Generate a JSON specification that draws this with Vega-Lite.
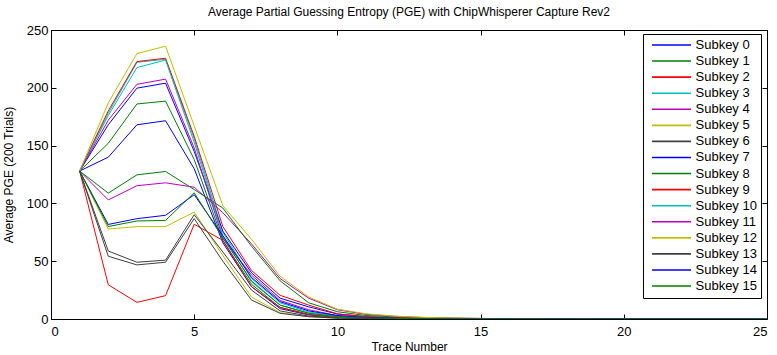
{
  "$schema": "https://vega.github.io/schema/vega-lite/v6.json",
  "autosize": {"type": "none"},
  "padding": {"left": 51, "top": 30, "right": 10, "bottom": 36},
  "width": 716,
  "height": 289,
  "background": "white",
  "title": {"text": "Average Partial Guessing Entropy (PGE) with ChipWhisperer Capture Rev2", "font": "Liberation Sans", "fontSize": 12, "fontWeight": "normal", "color": "black", "offset": 5, "anchor": "middle"},
  "config": {
    "view": {"stroke": "black", "strokeWidth": 1},
    "axis": {"labelFont": "Liberation Sans", "titleFont": "Liberation Sans", "labelFontSize": 13, "titleFontSize": 12, "titleFontWeight": "normal", "labelColor": "black", "titleColor": "black", "domainColor": "black", "tickColor": "black", "grid": false, "tickSize": -5}
  },
  "data": {"values": [
{"t":1,"s":"Subkey 0","v":128},{"t":2,"s":"Subkey 0","v":140},{"t":3,"s":"Subkey 0","v":168},{"t":4,"s":"Subkey 0","v":171.5},{"t":5,"s":"Subkey 0","v":130},{"t":6,"s":"Subkey 0","v":66},{"t":7,"s":"Subkey 0","v":28},{"t":8,"s":"Subkey 0","v":9},{"t":9,"s":"Subkey 0","v":3.5},{"t":10,"s":"Subkey 0","v":1.5},{"t":11,"s":"Subkey 0","v":0.7},{"t":12,"s":"Subkey 0","v":0.35},{"t":13,"s":"Subkey 0","v":0.2},{"t":14,"s":"Subkey 0","v":0.1},{"t":15,"s":"Subkey 0","v":0.06},{"t":16,"s":"Subkey 0","v":0.04},{"t":17,"s":"Subkey 0","v":0.02},{"t":18,"s":"Subkey 0","v":0.01},{"t":19,"s":"Subkey 0","v":0},{"t":20,"s":"Subkey 0","v":0},{"t":21,"s":"Subkey 0","v":0},{"t":22,"s":"Subkey 0","v":0},{"t":23,"s":"Subkey 0","v":0},{"t":24,"s":"Subkey 0","v":0},{"t":25,"s":"Subkey 0","v":0},
{"t":1,"s":"Subkey 1","v":128},{"t":2,"s":"Subkey 1","v":152},{"t":3,"s":"Subkey 1","v":186},{"t":4,"s":"Subkey 1","v":188.5},{"t":5,"s":"Subkey 1","v":138},{"t":6,"s":"Subkey 1","v":68},{"t":7,"s":"Subkey 1","v":30},{"t":8,"s":"Subkey 1","v":10},{"t":9,"s":"Subkey 1","v":4},{"t":10,"s":"Subkey 1","v":1.6},{"t":11,"s":"Subkey 1","v":0.7},{"t":12,"s":"Subkey 1","v":0.35},{"t":13,"s":"Subkey 1","v":0.2},{"t":14,"s":"Subkey 1","v":0.1},{"t":15,"s":"Subkey 1","v":0.06},{"t":16,"s":"Subkey 1","v":0.04},{"t":17,"s":"Subkey 1","v":0.02},{"t":18,"s":"Subkey 1","v":0.01},{"t":19,"s":"Subkey 1","v":0},{"t":20,"s":"Subkey 1","v":0},{"t":21,"s":"Subkey 1","v":0},{"t":22,"s":"Subkey 1","v":0},{"t":23,"s":"Subkey 1","v":0},{"t":24,"s":"Subkey 1","v":0},{"t":25,"s":"Subkey 1","v":0},
{"t":1,"s":"Subkey 2","v":128},{"t":2,"s":"Subkey 2","v":29.6},{"t":3,"s":"Subkey 2","v":14.4},{"t":4,"s":"Subkey 2","v":20.2},{"t":5,"s":"Subkey 2","v":82},{"t":6,"s":"Subkey 2","v":68},{"t":7,"s":"Subkey 2","v":28},{"t":8,"s":"Subkey 2","v":10},{"t":9,"s":"Subkey 2","v":4},{"t":10,"s":"Subkey 2","v":1.5},{"t":11,"s":"Subkey 2","v":0.6},{"t":12,"s":"Subkey 2","v":0.3},{"t":13,"s":"Subkey 2","v":0.15},{"t":14,"s":"Subkey 2","v":0.08},{"t":15,"s":"Subkey 2","v":0.05},{"t":16,"s":"Subkey 2","v":0.03},{"t":17,"s":"Subkey 2","v":0.02},{"t":18,"s":"Subkey 2","v":0.01},{"t":19,"s":"Subkey 2","v":0},{"t":20,"s":"Subkey 2","v":0},{"t":21,"s":"Subkey 2","v":0},{"t":22,"s":"Subkey 2","v":0},{"t":23,"s":"Subkey 2","v":0},{"t":24,"s":"Subkey 2","v":0},{"t":25,"s":"Subkey 2","v":0},
{"t":1,"s":"Subkey 3","v":128},{"t":2,"s":"Subkey 3","v":178},{"t":3,"s":"Subkey 3","v":222},{"t":4,"s":"Subkey 3","v":224.7},{"t":5,"s":"Subkey 3","v":156},{"t":6,"s":"Subkey 3","v":75},{"t":7,"s":"Subkey 3","v":35},{"t":8,"s":"Subkey 3","v":14},{"t":9,"s":"Subkey 3","v":6},{"t":10,"s":"Subkey 3","v":2.5},{"t":11,"s":"Subkey 3","v":1.1},{"t":12,"s":"Subkey 3","v":0.5},{"t":13,"s":"Subkey 3","v":0.25},{"t":14,"s":"Subkey 3","v":0.12},{"t":15,"s":"Subkey 3","v":0.07},{"t":16,"s":"Subkey 3","v":0.04},{"t":17,"s":"Subkey 3","v":0.02},{"t":18,"s":"Subkey 3","v":0.01},{"t":19,"s":"Subkey 3","v":0},{"t":20,"s":"Subkey 3","v":0},{"t":21,"s":"Subkey 3","v":0},{"t":22,"s":"Subkey 3","v":0},{"t":23,"s":"Subkey 3","v":0},{"t":24,"s":"Subkey 3","v":0},{"t":25,"s":"Subkey 3","v":0},
{"t":1,"s":"Subkey 4","v":128},{"t":2,"s":"Subkey 4","v":103},{"t":3,"s":"Subkey 4","v":115.3},{"t":4,"s":"Subkey 4","v":117.8},{"t":5,"s":"Subkey 4","v":114},{"t":6,"s":"Subkey 4","v":92},{"t":7,"s":"Subkey 4","v":65},{"t":8,"s":"Subkey 4","v":35},{"t":9,"s":"Subkey 4","v":18},{"t":10,"s":"Subkey 4","v":8},{"t":11,"s":"Subkey 4","v":4},{"t":12,"s":"Subkey 4","v":2.3},{"t":13,"s":"Subkey 4","v":1.3},{"t":14,"s":"Subkey 4","v":0.8},{"t":15,"s":"Subkey 4","v":0.5},{"t":16,"s":"Subkey 4","v":0.3},{"t":17,"s":"Subkey 4","v":0.2},{"t":18,"s":"Subkey 4","v":0.1},{"t":19,"s":"Subkey 4","v":0.06},{"t":20,"s":"Subkey 4","v":0.04},{"t":21,"s":"Subkey 4","v":0.02},{"t":22,"s":"Subkey 4","v":0.01},{"t":23,"s":"Subkey 4","v":0},{"t":24,"s":"Subkey 4","v":0},{"t":25,"s":"Subkey 4","v":0},
{"t":1,"s":"Subkey 5","v":128},{"t":2,"s":"Subkey 5","v":77.8},{"t":3,"s":"Subkey 5","v":79.9},{"t":4,"s":"Subkey 5","v":79.9},{"t":5,"s":"Subkey 5","v":92.5},{"t":6,"s":"Subkey 5","v":55},{"t":7,"s":"Subkey 5","v":19},{"t":8,"s":"Subkey 5","v":5.5},{"t":9,"s":"Subkey 5","v":2},{"t":10,"s":"Subkey 5","v":0.8},{"t":11,"s":"Subkey 5","v":0.3},{"t":12,"s":"Subkey 5","v":0.15},{"t":13,"s":"Subkey 5","v":0.08},{"t":14,"s":"Subkey 5","v":0.04},{"t":15,"s":"Subkey 5","v":0.02},{"t":16,"s":"Subkey 5","v":0.01},{"t":17,"s":"Subkey 5","v":0},{"t":18,"s":"Subkey 5","v":0},{"t":19,"s":"Subkey 5","v":0},{"t":20,"s":"Subkey 5","v":0},{"t":21,"s":"Subkey 5","v":0},{"t":22,"s":"Subkey 5","v":0},{"t":23,"s":"Subkey 5","v":0},{"t":24,"s":"Subkey 5","v":0},{"t":25,"s":"Subkey 5","v":0},
{"t":1,"s":"Subkey 6","v":128},{"t":2,"s":"Subkey 6","v":58.8},{"t":3,"s":"Subkey 6","v":49.1},{"t":4,"s":"Subkey 6","v":50.9},{"t":5,"s":"Subkey 6","v":90.2},{"t":6,"s":"Subkey 6","v":58},{"t":7,"s":"Subkey 6","v":25},{"t":8,"s":"Subkey 6","v":7},{"t":9,"s":"Subkey 6","v":2.5},{"t":10,"s":"Subkey 6","v":1},{"t":11,"s":"Subkey 6","v":0.4},{"t":12,"s":"Subkey 6","v":0.2},{"t":13,"s":"Subkey 6","v":0.1},{"t":14,"s":"Subkey 6","v":0.05},{"t":15,"s":"Subkey 6","v":0.03},{"t":16,"s":"Subkey 6","v":0.01},{"t":17,"s":"Subkey 6","v":0},{"t":18,"s":"Subkey 6","v":0},{"t":19,"s":"Subkey 6","v":0},{"t":20,"s":"Subkey 6","v":0},{"t":21,"s":"Subkey 6","v":0},{"t":22,"s":"Subkey 6","v":0},{"t":23,"s":"Subkey 6","v":0},{"t":24,"s":"Subkey 6","v":0},{"t":25,"s":"Subkey 6","v":0},
{"t":1,"s":"Subkey 7","v":128},{"t":2,"s":"Subkey 7","v":168},{"t":3,"s":"Subkey 7","v":199.7},{"t":4,"s":"Subkey 7","v":204},{"t":5,"s":"Subkey 7","v":145},{"t":6,"s":"Subkey 7","v":76},{"t":7,"s":"Subkey 7","v":40},{"t":8,"s":"Subkey 7","v":18},{"t":9,"s":"Subkey 7","v":10.5},{"t":10,"s":"Subkey 7","v":4.3},{"t":11,"s":"Subkey 7","v":2},{"t":12,"s":"Subkey 7","v":1},{"t":13,"s":"Subkey 7","v":0.5},{"t":14,"s":"Subkey 7","v":0.25},{"t":15,"s":"Subkey 7","v":0.15},{"t":16,"s":"Subkey 7","v":0.08},{"t":17,"s":"Subkey 7","v":0.04},{"t":18,"s":"Subkey 7","v":0.02},{"t":19,"s":"Subkey 7","v":0.01},{"t":20,"s":"Subkey 7","v":0},{"t":21,"s":"Subkey 7","v":0},{"t":22,"s":"Subkey 7","v":0},{"t":23,"s":"Subkey 7","v":0},{"t":24,"s":"Subkey 7","v":0},{"t":25,"s":"Subkey 7","v":0},
{"t":1,"s":"Subkey 8","v":128},{"t":2,"s":"Subkey 8","v":108.9},{"t":3,"s":"Subkey 8","v":124.7},{"t":4,"s":"Subkey 8","v":127.6},{"t":5,"s":"Subkey 8","v":112},{"t":6,"s":"Subkey 8","v":96},{"t":7,"s":"Subkey 8","v":63},{"t":8,"s":"Subkey 8","v":33},{"t":9,"s":"Subkey 8","v":14},{"t":10,"s":"Subkey 8","v":6.3},{"t":11,"s":"Subkey 8","v":3},{"t":12,"s":"Subkey 8","v":1.8},{"t":13,"s":"Subkey 8","v":1},{"t":14,"s":"Subkey 8","v":0.6},{"t":15,"s":"Subkey 8","v":0.4},{"t":16,"s":"Subkey 8","v":0.2},{"t":17,"s":"Subkey 8","v":0.12},{"t":18,"s":"Subkey 8","v":0.06},{"t":19,"s":"Subkey 8","v":0.03},{"t":20,"s":"Subkey 8","v":0.02},{"t":21,"s":"Subkey 8","v":0.01},{"t":22,"s":"Subkey 8","v":0},{"t":23,"s":"Subkey 8","v":0},{"t":24,"s":"Subkey 8","v":0},{"t":25,"s":"Subkey 8","v":0},
{"t":1,"s":"Subkey 9","v":128},{"t":2,"s":"Subkey 9","v":180},{"t":3,"s":"Subkey 9","v":222.7},{"t":4,"s":"Subkey 9","v":225.6},{"t":5,"s":"Subkey 9","v":158},{"t":6,"s":"Subkey 9","v":80},{"t":7,"s":"Subkey 9","v":42},{"t":8,"s":"Subkey 9","v":20.5},{"t":9,"s":"Subkey 9","v":12},{"t":10,"s":"Subkey 9","v":4.5},{"t":11,"s":"Subkey 9","v":2},{"t":12,"s":"Subkey 9","v":1},{"t":13,"s":"Subkey 9","v":0.5},{"t":14,"s":"Subkey 9","v":0.3},{"t":15,"s":"Subkey 9","v":0.2},{"t":16,"s":"Subkey 9","v":0.1},{"t":17,"s":"Subkey 9","v":0.05},{"t":18,"s":"Subkey 9","v":0.03},{"t":19,"s":"Subkey 9","v":0.01},{"t":20,"s":"Subkey 9","v":0},{"t":21,"s":"Subkey 9","v":0},{"t":22,"s":"Subkey 9","v":0},{"t":23,"s":"Subkey 9","v":0},{"t":24,"s":"Subkey 9","v":0},{"t":25,"s":"Subkey 9","v":0},
{"t":1,"s":"Subkey 10","v":128},{"t":2,"s":"Subkey 10","v":176},{"t":3,"s":"Subkey 10","v":217.5},{"t":4,"s":"Subkey 10","v":224},{"t":5,"s":"Subkey 10","v":153},{"t":6,"s":"Subkey 10","v":72},{"t":7,"s":"Subkey 10","v":32},{"t":8,"s":"Subkey 10","v":12},{"t":9,"s":"Subkey 10","v":5},{"t":10,"s":"Subkey 10","v":2},{"t":11,"s":"Subkey 10","v":0.9},{"t":12,"s":"Subkey 10","v":0.45},{"t":13,"s":"Subkey 10","v":0.22},{"t":14,"s":"Subkey 10","v":0.11},{"t":15,"s":"Subkey 10","v":0.06},{"t":16,"s":"Subkey 10","v":0.03},{"t":17,"s":"Subkey 10","v":0.02},{"t":18,"s":"Subkey 10","v":0.01},{"t":19,"s":"Subkey 10","v":0},{"t":20,"s":"Subkey 10","v":0},{"t":21,"s":"Subkey 10","v":0},{"t":22,"s":"Subkey 10","v":0},{"t":23,"s":"Subkey 10","v":0},{"t":24,"s":"Subkey 10","v":0},{"t":25,"s":"Subkey 10","v":0},
{"t":1,"s":"Subkey 11","v":128},{"t":2,"s":"Subkey 11","v":172},{"t":3,"s":"Subkey 11","v":203},{"t":4,"s":"Subkey 11","v":207.5},{"t":5,"s":"Subkey 11","v":148},{"t":6,"s":"Subkey 11","v":70},{"t":7,"s":"Subkey 11","v":38},{"t":8,"s":"Subkey 11","v":16},{"t":9,"s":"Subkey 11","v":8},{"t":10,"s":"Subkey 11","v":3},{"t":11,"s":"Subkey 11","v":1.5},{"t":12,"s":"Subkey 11","v":0.8},{"t":13,"s":"Subkey 11","v":0.4},{"t":14,"s":"Subkey 11","v":0.2},{"t":15,"s":"Subkey 11","v":0.1},{"t":16,"s":"Subkey 11","v":0.06},{"t":17,"s":"Subkey 11","v":0.03},{"t":18,"s":"Subkey 11","v":0.02},{"t":19,"s":"Subkey 11","v":0.01},{"t":20,"s":"Subkey 11","v":0},{"t":21,"s":"Subkey 11","v":0},{"t":22,"s":"Subkey 11","v":0},{"t":23,"s":"Subkey 11","v":0},{"t":24,"s":"Subkey 11","v":0},{"t":25,"s":"Subkey 11","v":0},
{"t":1,"s":"Subkey 12","v":128},{"t":2,"s":"Subkey 12","v":187},{"t":3,"s":"Subkey 12","v":229.6},{"t":4,"s":"Subkey 12","v":236},{"t":5,"s":"Subkey 12","v":167},{"t":6,"s":"Subkey 12","v":98},{"t":7,"s":"Subkey 12","v":69},{"t":8,"s":"Subkey 12","v":37},{"t":9,"s":"Subkey 12","v":19},{"t":10,"s":"Subkey 12","v":8.5},{"t":11,"s":"Subkey 12","v":4.5},{"t":12,"s":"Subkey 12","v":2.5},{"t":13,"s":"Subkey 12","v":1.4},{"t":14,"s":"Subkey 12","v":0.8},{"t":15,"s":"Subkey 12","v":0.5},{"t":16,"s":"Subkey 12","v":0.3},{"t":17,"s":"Subkey 12","v":0.2},{"t":18,"s":"Subkey 12","v":0.1},{"t":19,"s":"Subkey 12","v":0.06},{"t":20,"s":"Subkey 12","v":0.04},{"t":21,"s":"Subkey 12","v":0.02},{"t":22,"s":"Subkey 12","v":0.01},{"t":23,"s":"Subkey 12","v":0},{"t":24,"s":"Subkey 12","v":0},{"t":25,"s":"Subkey 12","v":0},
{"t":1,"s":"Subkey 13","v":128},{"t":2,"s":"Subkey 13","v":54.3},{"t":3,"s":"Subkey 13","v":46.8},{"t":4,"s":"Subkey 13","v":49.1},{"t":5,"s":"Subkey 13","v":86.8},{"t":6,"s":"Subkey 13","v":50},{"t":7,"s":"Subkey 13","v":16.4},{"t":8,"s":"Subkey 13","v":4.9},{"t":9,"s":"Subkey 13","v":2},{"t":10,"s":"Subkey 13","v":0.7},{"t":11,"s":"Subkey 13","v":0.3},{"t":12,"s":"Subkey 13","v":0.15},{"t":13,"s":"Subkey 13","v":0.07},{"t":14,"s":"Subkey 13","v":0.03},{"t":15,"s":"Subkey 13","v":0.02},{"t":16,"s":"Subkey 13","v":0.01},{"t":17,"s":"Subkey 13","v":0},{"t":18,"s":"Subkey 13","v":0},{"t":19,"s":"Subkey 13","v":0},{"t":20,"s":"Subkey 13","v":0},{"t":21,"s":"Subkey 13","v":0},{"t":22,"s":"Subkey 13","v":0},{"t":23,"s":"Subkey 13","v":0},{"t":24,"s":"Subkey 13","v":0},{"t":25,"s":"Subkey 13","v":0},
{"t":1,"s":"Subkey 14","v":128},{"t":2,"s":"Subkey 14","v":81.8},{"t":3,"s":"Subkey 14","v":86.8},{"t":4,"s":"Subkey 14","v":89.7},{"t":5,"s":"Subkey 14","v":107.5},{"t":6,"s":"Subkey 14","v":72},{"t":7,"s":"Subkey 14","v":36},{"t":8,"s":"Subkey 14","v":15},{"t":9,"s":"Subkey 14","v":7},{"t":10,"s":"Subkey 14","v":3},{"t":11,"s":"Subkey 14","v":1.2},{"t":12,"s":"Subkey 14","v":0.6},{"t":13,"s":"Subkey 14","v":0.3},{"t":14,"s":"Subkey 14","v":0.15},{"t":15,"s":"Subkey 14","v":0.08},{"t":16,"s":"Subkey 14","v":0.04},{"t":17,"s":"Subkey 14","v":0.02},{"t":18,"s":"Subkey 14","v":0.01},{"t":19,"s":"Subkey 14","v":0},{"t":20,"s":"Subkey 14","v":0},{"t":21,"s":"Subkey 14","v":0},{"t":22,"s":"Subkey 14","v":0},{"t":23,"s":"Subkey 14","v":0},{"t":24,"s":"Subkey 14","v":0},{"t":25,"s":"Subkey 14","v":0},
{"t":1,"s":"Subkey 15","v":128},{"t":2,"s":"Subkey 15","v":80},{"t":3,"s":"Subkey 15","v":84.8},{"t":4,"s":"Subkey 15","v":85.3},{"t":5,"s":"Subkey 15","v":109.2},{"t":6,"s":"Subkey 15","v":70},{"t":7,"s":"Subkey 15","v":33},{"t":8,"s":"Subkey 15","v":12},{"t":9,"s":"Subkey 15","v":5},{"t":10,"s":"Subkey 15","v":2},{"t":11,"s":"Subkey 15","v":1},{"t":12,"s":"Subkey 15","v":0.5},{"t":13,"s":"Subkey 15","v":0.25},{"t":14,"s":"Subkey 15","v":0.12},{"t":15,"s":"Subkey 15","v":0.06},{"t":16,"s":"Subkey 15","v":0.03},{"t":17,"s":"Subkey 15","v":0.02},{"t":18,"s":"Subkey 15","v":0.01},{"t":19,"s":"Subkey 15","v":0},{"t":20,"s":"Subkey 15","v":0},{"t":21,"s":"Subkey 15","v":0},{"t":22,"s":"Subkey 15","v":0},{"t":23,"s":"Subkey 15","v":0},{"t":24,"s":"Subkey 15","v":0},{"t":25,"s":"Subkey 15","v":0}
  ]},
  "layer": [
    {
      "mark": {"type": "line", "strokeWidth": 1, "clip": true},
      "encoding": {
        "x": {"field": "t", "type": "quantitative", "scale": {"domain": [0, 25], "nice": false}, "axis": {"orient": "bottom", "values": [0, 5, 10, 15, 20, 25], "title": "Trace Number", "labelPadding": 11, "titlePadding": 3}},
        "y": {"field": "v", "type": "quantitative", "scale": {"domain": [0, 250], "nice": false, "zero": false}, "axis": {"orient": "left", "values": [0, 50, 100, 150, 200, 250], "title": "Average PGE (200 Trials)", "labelPadding": 8, "titlePadding": 11}},
        "color": {"field": "s", "type": "nominal",
          "scale": {"domain": ["Subkey 0","Subkey 1","Subkey 2","Subkey 3","Subkey 4","Subkey 5","Subkey 6","Subkey 7","Subkey 8","Subkey 9","Subkey 10","Subkey 11","Subkey 12","Subkey 13","Subkey 14","Subkey 15"],
                    "range": ["#0000ff","#008000","#ff0000","#00bfbf","#bf00bf","#bfbf00","#404040","#0000ff","#008000","#ff0000","#00bfbf","#bf00bf","#bfbf00","#404040","#0000ff","#008000"]},
          "legend": {"title": null, "orient": "none", "legendX": 592, "legendY": 4, "padding": 4, "fillColor": "white", "strokeColor": "black", "labelFont": "Liberation Sans", "labelFontSize": 13, "labelColor": "black", "symbolType": "M-3.25,0H3.25", "symbolSize": 144, "symbolStrokeWidth": 1.6, "symbolOffset": 17.5, "labelOffset": 17, "rowPadding": 2.07, "cornerRadius": 0}
        }
      }
    },
    {
      "mark": {"type": "line", "opacity": 0},
      "encoding": {
        "x": {"field": "t", "type": "quantitative", "axis": {"orient": "top", "values": [0, 5, 10, 15, 20, 25], "labels": false, "title": null}},
        "y": {"field": "v", "type": "quantitative", "axis": {"orient": "right", "values": [0, 50, 100, 150, 200, 250], "labels": false, "title": null}},
        "detail": {"field": "s", "type": "nominal"}
      }
    }
  ],
  "resolve": {"axis": {"x": "independent", "y": "independent"}}
}
